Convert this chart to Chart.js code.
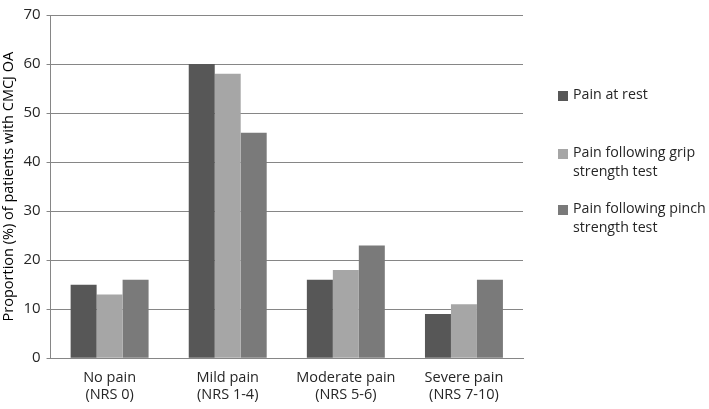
<!DOCTYPE html>
<html>
<head>
<meta charset="utf-8">
<script src="https://cdn.jsdelivr.net/npm/chart.js@4.4.1/dist/chart.umd.min.js"></script>
<style>
  html, body { margin: 0; padding: 0; background: #fff; }
  #wrap { width: 709px; height: 409px; position: relative; }
</style>
</head>
<body>
<div id="wrap"><canvas id="myChart" width="709" height="409"></canvas></div>
<script>
let categories = [["No pain", "(NRS 0)"], ["Mild pain", "(NRS 1-4)"], ["Moderate pain", "(NRS 5-6)"], ["Severe pain", "(NRS 7-10)"]];
let seriesNames = ["Pain at rest", "Pain following grip strength test", "Pain following pinch strength test"];
let legendLines = [["Pain at rest"], ["Pain following grip", "strength test"], ["Pain following pinch", "strength test"]];
let atRest = [15, 60, 16, 9];
let afterGrip = [13, 58, 18, 11];
let afterPinch = [16, 46, 23, 16];
let colors = ['#575757', '#a6a6a6', '#7a7a7a'];

let font = "'Open Sans', 'Liberation Sans', sans-serif";

// legend drawn by hand so the labels can wrap like the original
const sideLegend = {
  id: 'sideLegend',
  afterDraw(chart) {
    let c = chart.ctx;
    let x = chart.chartArea.right + 35;
    let mids = [95, 153, 209];
    c.save();
    // size the text so the longest line fits the space left of the edge
    c.font = "14px " + font;
    let w = c.measureText("Pain following pinch").width;
    let size = Math.min(16, 14 * 133 / w);
    c.font = size + "px " + font;
    c.textBaseline = 'middle';
    legendLines.forEach((lines, i) => {
      c.fillStyle = colors[i];
      c.fillRect(x, mids[i] - 4, 10, 10);
      c.fillStyle = '#262626';
      lines.forEach((t, j) => {
        c.fillText(t, x + 15, mids[i] + j * 19);
      });
    });
    c.restore();
  }
};

let ctx = document.getElementById('myChart').getContext('2d');
let datasets = [atRest, afterGrip, afterPinch].map((d, i) => ({
  label: seriesNames[i],
  data: d,
  backgroundColor: colors[i],
  borderWidth: 0,
  categoryPercentage: 0.66,
  barPercentage: 1.0
}));

let myChart = new Chart(ctx, {
  type: 'bar',
  data: { labels: categories, datasets: datasets },
  options: {
    responsive: false,
    animation: false,
    layout: { padding: { top: 7, right: 186, left: 0, bottom: -6 } },
    plugins: {
      legend: { display: false },
      tooltip: { enabled: false }
    },
    scales: {
      x: {
        grid: { display: false, drawTicks: false },
        border: { color: '#868686', width: 1 },
        ticks: { color: '#262626', font: { family: font, size: 14.5 }, padding: 11, maxRotation: 0 }
      },
      y: {
        min: 0, max: 70,
        ticks: { stepSize: 10, color: '#262626', font: { family: font, size: 15 }, padding: 6 },
        grid: { color: '#868686', tickLength: 4 },
        border: { color: '#868686', width: 1 },
        title: {
          display: true,
          text: 'Proportion (%) of patients with CMCJ OA',
          color: '#000',
          font: { family: font, size: 14.5 },
          padding: { top: 0, bottom: 0 }
        }
      }
    }
  },
  plugins: [sideLegend]
});
</script>
</body>
</html>
